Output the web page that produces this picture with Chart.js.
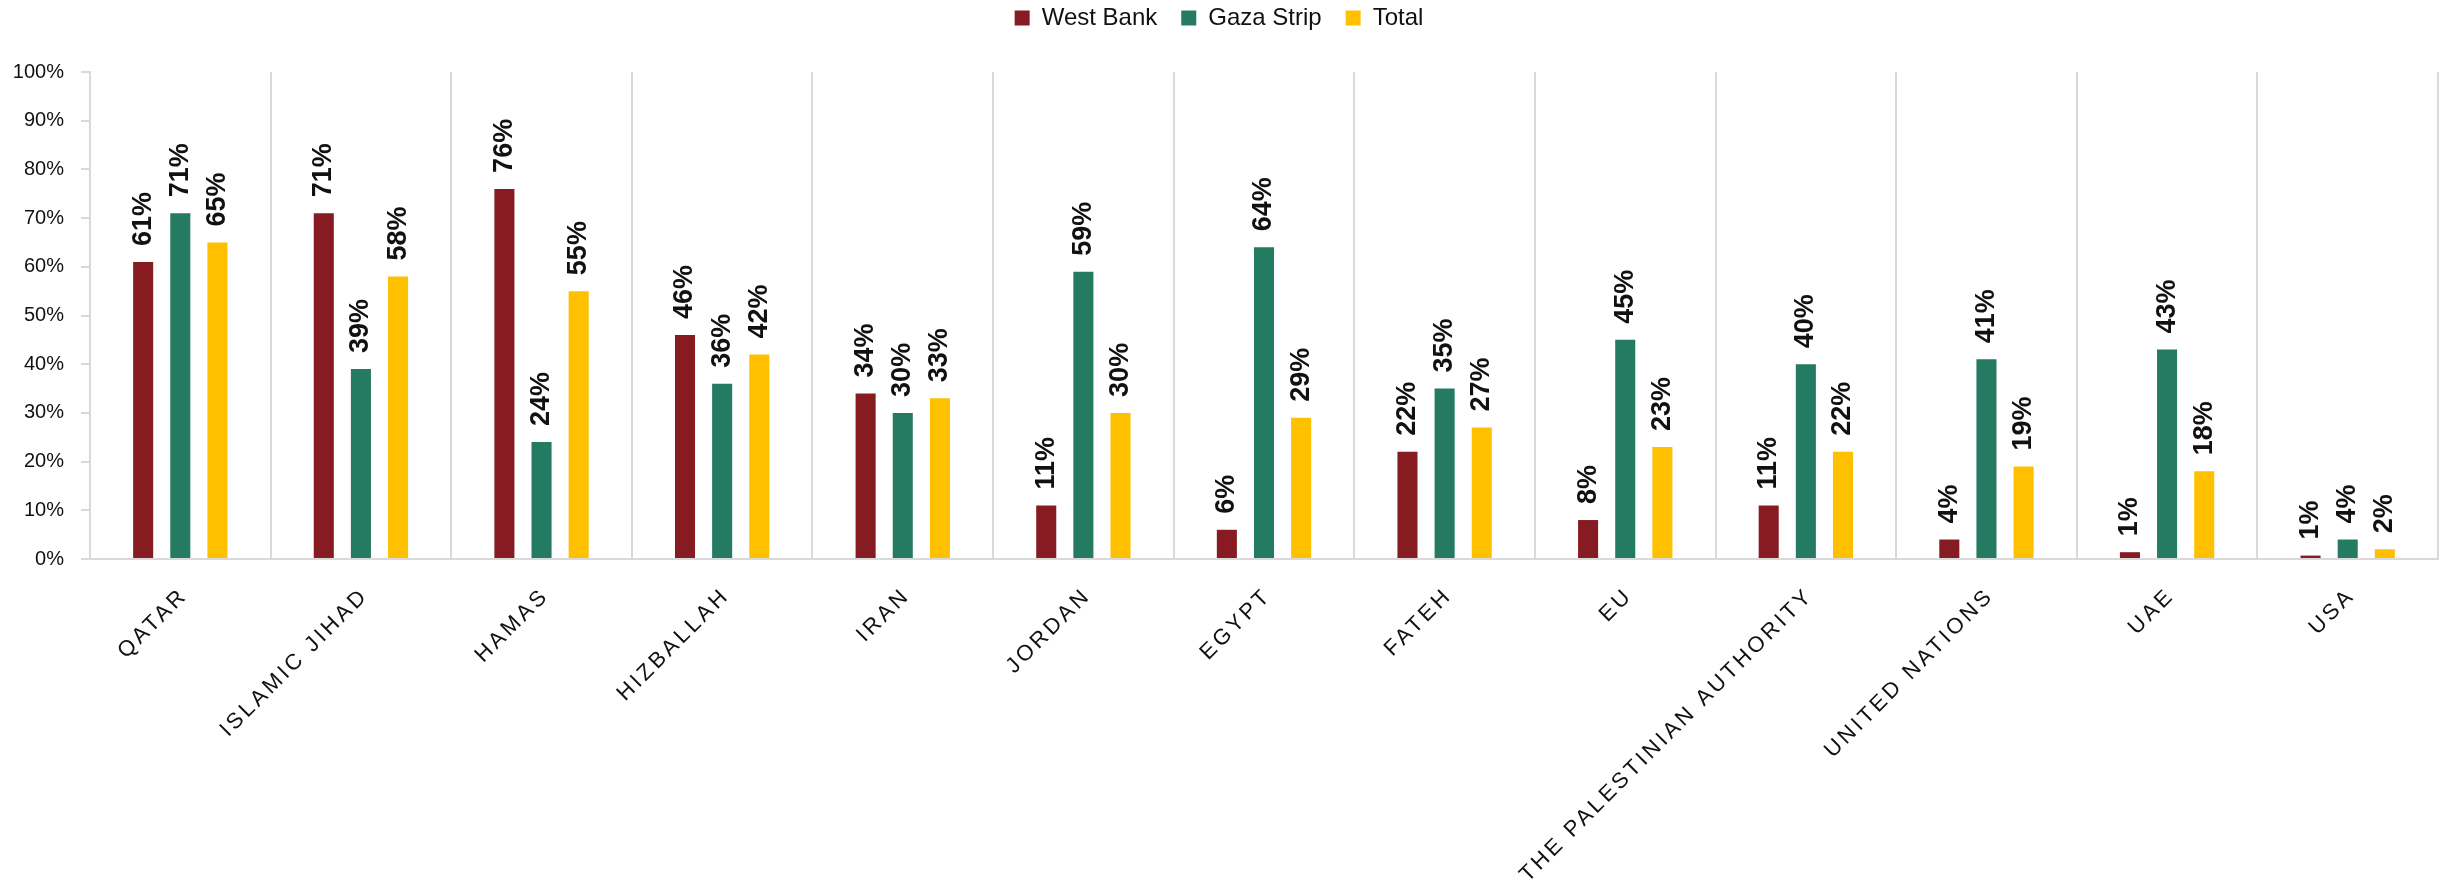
<!DOCTYPE html>
<html>
<head>
<meta charset="utf-8">
<script src="https://cdn.jsdelivr.net/npm/chart.js@4.4.1/dist/chart.umd.min.js"></script>
<style>
    html, body { margin: 0; padding: 0; background: #fff; }
    #wrap { width: 2453px; height: 893px; position: relative; }
</style>
</head>
<body>
<div id="wrap"><canvas id="supportChart"></canvas></div>
<script>
// --- DATA ---
const categories = ['QATAR', 'ISLAMIC JIHAD', 'HAMAS', 'HIZBALLAH', 'IRAN', 'JORDAN', 'EGYPT',
    'FATEH', 'EU', 'THE PALESTINIAN AUTHORITY', 'UNITED NATIONS', 'UAE', 'USA'];
const westBank  = [61, 71, 76, 46, 34, 11, 6, 22, 8, 11, 4, 1.4, 0.7];
const gazaStrip = [71, 39, 24, 36, 30, 59, 64, 35, 45, 40, 41, 43, 4];
const total     = [65, 58, 55, 42, 33, 30, 29, 27, 23, 22, 19, 18, 2];
const seriesNames = ['West Bank', 'Gaza Strip', 'Total'];
const yTicks = [0, 10, 20, 30, 40, 50, 60, 70, 80, 90, 100];

const COLORS = ['#861b21', '#257a62', '#ffc000'];
const FONT = "'Liberation Sans', Arial, sans-serif";

document.addEventListener('DOMContentLoaded', () => {

    // --- value labels on top of each bar, rotated like the original ---
    const barLabels = {
        id: 'barLabels',
        beforeDraw(chart) {
            chart.ctx.letterSpacing = '0px';
        },
        afterDatasetsDraw(chart) {
            const ctx = chart.ctx;
            chart.data.datasets.forEach((ds, i) => {
                const meta = chart.getDatasetMeta(i);
                meta.data.forEach((bar, j) => {
                    ctx.save();
                    ctx.translate(bar.x, bar.y - 16);
                    ctx.rotate(-Math.PI / 2);
                    ctx.font = `bold 27px ${FONT}`;
                    ctx.fillStyle = '#111';
                    ctx.textAlign = 'left';
                    ctx.textBaseline = 'middle';
                    ctx.fillText(Math.round(ds.data[j]) + '%', 0, 0);
                    ctx.restore();
                });
            });
            // x labels are drawn after this (ticks.z = 1), spaced out like the source
            ctx.letterSpacing = '3.2px';
        },
        afterDraw(chart) {
            chart.ctx.letterSpacing = '0px';
        },
        afterLayout(chart) {
            // nudge legend up to the top edge
            chart.legend.top -= 32;
            chart.legend.bottom -= 32;
        }
    };

    const ctx = document.getElementById('supportChart').getContext('2d');
    new Chart(ctx, {
        type: 'bar',
        data: {
            labels: categories,
            datasets: [westBank, gazaStrip, total].map((d, i) => ({
                label: seriesNames[i],
                data: d,
                backgroundColor: COLORS[i],
                borderWidth: 0,
                categoryPercentage: 0.617,
                barPercentage: 0.54
            }))
        },
        options: {
            responsive: true,
            maintainAspectRatio: false,
            animation: false,
            layout: { padding: { top: 14, right: 15, left: 0, bottom: 0 } },
            plugins: {
                legend: {
                    position: 'top',
                    labels: {
                        boxWidth: 15,
                        boxHeight: 15,
                        padding: 24,
                        color: '#111',
                        font: { family: FONT, size: 24 }
                    }
                },
                tooltip: { enabled: false }
            },
            scales: {
                x: {
                    grid: { color: '#d9d9d9', lineWidth: 2, drawTicks: false },
                    border: { color: '#d9d9d9', width: 2 },
                    ticks: {
                        z: 1,
                        autoSkip: false,
                        minRotation: 45,
                        maxRotation: 45,
                        padding: 24,
                        labelOffset: 4,
                        color: '#111',
                        font: { family: FONT, size: 22 }
                    },
                    afterFit: (s) => { s.height = 334; }
                },
                y: {
                    min: 0,
                    max: 100,
                    afterBuildTicks: (s) => { s.ticks = yTicks.map(v => ({ value: v })); },
                    grid: { drawOnChartArea: false, drawTicks: true, tickLength: 9, color: '#d9d9d9', lineWidth: 2 },
                    border: { color: '#d9d9d9', width: 2 },
                    ticks: {
                        padding: 17,
                        color: '#111',
                        font: { family: FONT, size: 20 },
                        callback: (v) => v + '%'
                    },
                    afterFit: (s) => { s.width = 90; }
                }
            }
        },
        plugins: [barLabels]
    });
});
</script>
</body>
</html>
